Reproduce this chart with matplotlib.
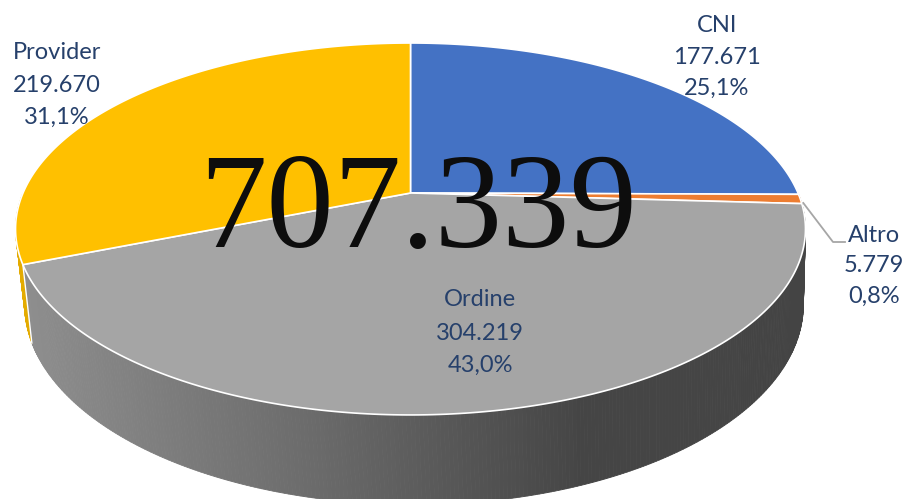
import numpy as np
import matplotlib
matplotlib.use("Agg")
import matplotlib.pyplot as plt
from matplotlib.patches import Polygon

# data
labels = ["CNI", "Altro", "Ordine", "Provider"]
values = [177671, 5779, 304219, 219670]
value_txt = ["177.671", "5.779", "304.219", "219.670"]
pct_txt = ["25,1%", "0,8%", "43,0%", "31,1%"]
colors = ["#4472C4", "#ED7D31", "#A5A5A5", "#FFC000"]
total_txt = "707.339"

# projection of the tilted disc (pixel space, y down)
K = 0.1935
TOP = dict(x0=410.5, y0=193.0, a=387.5, b=179.0)
BOT = dict(x0=414.0, y0=266.0, a=382.0, b=192.5)


def proj(theta, p, r=1.0):
    u = r * np.cos(theta)
    v = r * np.sin(theta)
    w = 1 + K * v
    return p["x0"] + p["a"] * u / w, p["y0"] - p["b"] * v / w


# slice angles: start at 12 o'clock, clockwise
fracs = np.array(values) / sum(values)
edges = np.pi / 2 - 2 * np.pi * np.concatenate([[0], np.cumsum(fracs)])


def slice_at(theta):
    # map theta into (edges[-1], edges[0]]
    t = theta
    while t > edges[0]:
        t -= 2 * np.pi
    while t <= edges[-1]:
        t += 2 * np.pi
    for i in range(len(values)):
        if edges[i + 1] < t <= edges[i]:
            return i
    return 0


def shade(hexcol, f):
    rgb = np.array(matplotlib.colors.to_rgb(hexcol))
    return tuple(np.clip(rgb * f, 0, 1))


fig = plt.figure(figsize=(9.1, 4.99), dpi=100)
ax = fig.add_axes([0, 0, 1, 1])
ax.set_xlim(0, 910)
ax.set_ylim(499, 0)
ax.axis("off")

# side wall (front half), back to front
thetas = np.linspace(np.pi, 2 * np.pi, 361)
quads = []
for t0, t1 in zip(thetas[:-1], thetas[1:]):
    tx0, ty0 = proj(t0, TOP)
    tx1, ty1 = proj(t1, TOP)
    bx0, by0 = proj(t0, BOT)
    bx1, by1 = proj(t1, BOT)
    i = slice_at(0.5 * (t0 + t1))
    xm = 0.25 * (tx0 + tx1 + bx0 + bx1)
    if labels[i] == "Ordine":
        g = np.interp(xm, [30, 300, 450, 580, 910], [0.86, 0.66, 0.53, 0.42, 0.41])
    else:
        g = np.interp(xm, [0, 910], [0.9, 0.6])
    col = shade(colors[i], g)
    quads.append((np.sin(0.5 * (t0 + t1)),
                  [(tx0, ty0), (tx1, ty1), (bx1, by1), (bx0, by0)], col))
quads.sort(key=lambda q: -q[0])
for _, pts, col in quads:
    ax.add_patch(Polygon(pts, closed=True, facecolor=col, edgecolor=col, lw=0.6))

# white seam between slices on the side
for e in edges:
    t = e % (2 * np.pi)
    if np.pi + 0.19 < t < 2 * np.pi - 0.19:
        tx, ty = proj(t, TOP)
        bx, by = proj(t, BOT)
        ax.plot([tx, bx], [ty, by], color="white", lw=1.0)

# top surface slices
cx, cy = proj(0.0, TOP, r=0.0)
for i in range(len(values)):
    arc = np.linspace(edges[i], edges[i + 1], 200)
    xs, ys = proj(arc, TOP)
    pts = np.column_stack([np.r_[cx, xs], np.r_[cy, ys]])
    ax.add_patch(Polygon(pts, closed=True, facecolor=colors[i],
                         edgecolor="white", lw=1.2, joinstyle="round"))

# total in the middle
ax.text(418, 214, total_txt, ha="center", va="center", fontsize=97,
        family="Liberation Serif", color="#0d0d0d")

# data labels
lab_col = "#26406B"
lab_pos = {"CNI": (717, [25, 57, 88]),
           "Altro": (874, [235, 266, 296]),
           "Ordine": (480, [300, 333, 365]),
           "Provider": (57, [52, 85, 117])}
for i, name in enumerate(labels):
    x, ys = lab_pos[name]
    for txt, y in zip([name, value_txt[i], pct_txt[i]], ys):
        ax.text(x, y, txt, ha="center", va="center", fontsize=17,
                family="Lato", color=lab_col)

# leader line for the small slice
mid = 0.5 * (edges[1] + edges[2])
lx, ly = proj(mid, TOP)
ax.plot([lx + 3, 833, 845], [ly + 4, 242, 242], color="#A6A6A6", lw=1.3)

fig.savefig("out.png", dpi=100)
